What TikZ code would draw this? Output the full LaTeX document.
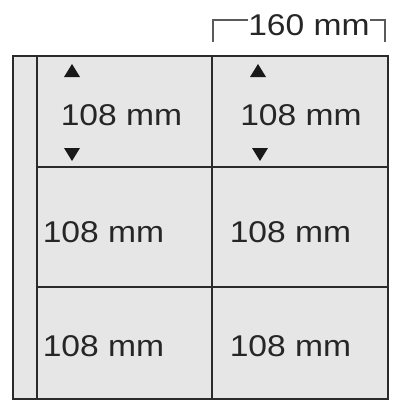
\documentclass[tikz,border=0pt]{standalone}
\usepackage{fontspec}
\setmainfont{Liberation Sans}
\usepackage{graphicx}
\definecolor{cellgray}{HTML}{E6E6E6}
\definecolor{linegray}{HTML}{2A2A2A}
\definecolor{brgray}{HTML}{5A5A5A}
\tikzset{
  lbl/.style={inner sep=0pt, anchor=center, text=black!85, font=\fontsize{30}{30}\selectfont},
  grid/.style={draw=linegray, line width=2pt},
  tri/.style={fill=black!90, draw=none},
  brk/.style={draw=brgray, line width=1.3pt}
}
\newcommand{\mmlabel}[1]{\scalebox{1.12}[1]{#1}}
\begin{document}
\begin{tikzpicture}[x=1pt,y=-1pt]
\useasboundingbox (0,0) rectangle (400,420);
% sheet
\fill[cellgray] (13,56) rectangle (388,399);
\draw[grid] (13,56) rectangle (388,399);
\draw[grid] (37,56) -- (37,399);
\draw[grid] (212,56) -- (212,399);
\draw[grid] (37,167) -- (388,167);
\draw[grid] (37,287) -- (388,287);
% bracket
\coordinate (bl) at (213,42);
\coordinate (bt) at (213,20);
\coordinate (brt) at (385,20);
\coordinate (br) at (385,42);
\node[lbl] (w) at (309,25) {\mmlabel{160 mm}};
\draw[brk] (bl) -- (bt) -- (w.west |- bt);
\draw[brk] (w.east |- brt) -- (brt) -- (br);
% labels
\node[lbl] (a1) at (121.5,115) {\mmlabel{108 mm}};
\node[lbl] (a2) at (301,115) {\mmlabel{108 mm}};
\node[lbl] (b1) at (103.5,232) {\mmlabel{108 mm}};
\node[lbl] (b2) at (290.5,232) {\mmlabel{108 mm}};
\node[lbl] (c1) at (103.5,346) {\mmlabel{108 mm}};
\node[lbl] (c2) at (290.5,346) {\mmlabel{108 mm}};
% triangles
\fill[tri] (64,77) -- (80,77) -- (72,64) -- cycle;
\fill[tri] (64,148) -- (80,148) -- (72,161) -- cycle;
\fill[tri] (250,77) -- (266,77) -- (258,64) -- cycle;
\fill[tri] (252,148) -- (268,148) -- (260,161) -- cycle;
\end{tikzpicture}
\end{document}
